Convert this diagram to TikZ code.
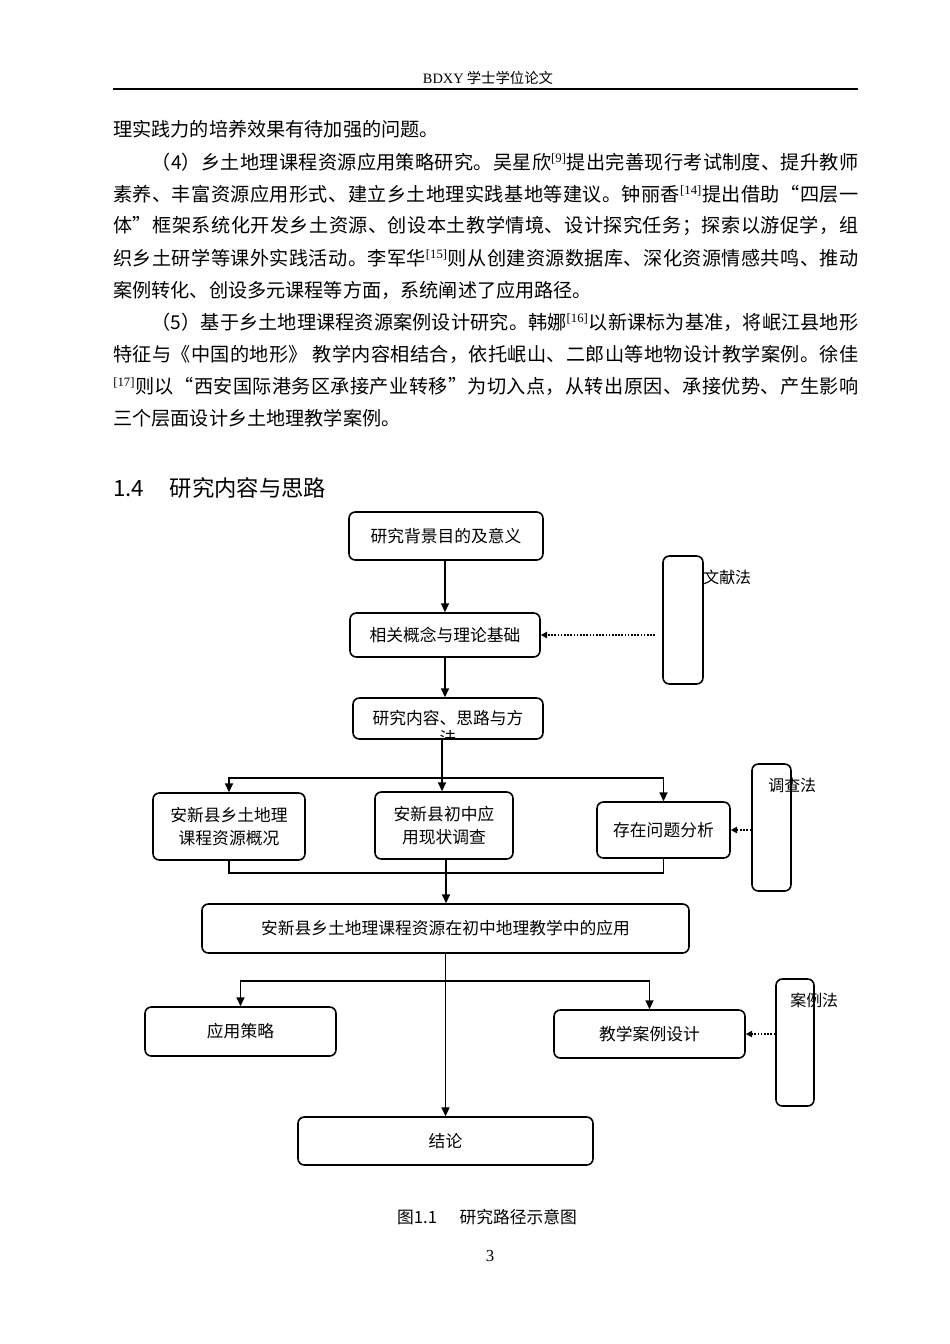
\documentclass[tikz,border=0pt]{standalone}
\usepackage{fontspec}
\setmainfont{Noto Sans CJK SC}
\newfontfamily\latinrm{Liberation Serif}
\usetikzlibrary{arrows.meta, positioning}
% stretchable glue between CJK characters, so that body lines can be justified
\newXeTeXintercharclass\cjkclass
\count255="4E00
\loop
  \XeTeXcharclass\count255=\cjkclass
  \ifnum\count255<"9FFF \advance\count255 by 1
\repeat
\XeTeXcharclass"3001=\cjkclass \XeTeXcharclass"3002=\cjkclass
\XeTeXcharclass"300A=\cjkclass \XeTeXcharclass"300B=\cjkclass
\XeTeXcharclass"FF08=\cjkclass \XeTeXcharclass"FF09=\cjkclass
\XeTeXcharclass"FF0C=\cjkclass \XeTeXcharclass"FF1B=\cjkclass
\XeTeXcharclass"201C=\cjkclass \XeTeXcharclass"201D=\cjkclass
\newcommand\cjkglue{\hskip0pt plus 1pt minus 0.6pt\relax}
\XeTeXinterchartoks\cjkclass\cjkclass={\cjkglue}
\XeTeXinterchartoks 0 \cjkclass={\cjkglue}
\XeTeXinterchartoks\cjkclass 0 ={\cjkglue}
\XeTeXinterchartokenstate=1
\def\px{0.6266pt}
\newcommand\refmark[1]{\textsuperscript{\latinrm[#1]}}
\newcommand\fullline[1]{\hbox to 466.8pt{#1}}

\begin{document}
\begin{tikzpicture}[
    x=0.6266pt, y=-0.6266pt,
    box/.style={draw, line width=1pt, rounded corners=4pt, inner sep=0pt, font=\fontsize{10.5}{14.4}\selectfont, align=center},
    mbox/.style={draw, line width=1pt, rounded corners=4pt, inner sep=0pt},
    mlabel/.style={anchor=west, inner sep=0pt, font=\fontsize{10}{12}\selectfont},
    arrow/.style={-{Triangle[width=5pt,length=5.5pt]}, line width=1pt},
    dotarrow/.style={-{Triangle[width=4pt,length=4pt]}, densely dotted, line width=1pt},
    link/.style={line width=1pt},
    bodyline/.style={anchor=west, inner sep=0pt, font=\fontsize{12}{14}\selectfont}
]
    \useasboundingbox (0,0) rectangle (950,1344);

    % header
    \node (header) at (488,78) {\fontsize{9}{11}\selectfont{\latinrm BDXY} 学士学位论文};
    \draw[line width=1.2pt] (113,89) -- (858,89);

    % body text
    \node[bodyline] (l1) at (113,129) {理实践力的培养效果有待加强的问题。};
    \node[bodyline] (l2) at (113,162) {\fullline{\hspace*{2em}（4）乡土地理课程资源应用策略研究。吴星欣\refmark{9}提出完善现行考试制度、提升教师}};
    \node[bodyline] (l3) at (113,194) {\fullline{素养、丰富资源应用形式、建立乡土地理实践基地等建议。钟丽香\refmark{14}提出借助“四层一}};
    \node[bodyline] (l4) at (113,226) {\fullline{体”框架系统化开发乡土资源、创设本土教学情境、设计探究任务；探索以游促学，组}};
    \node[bodyline] (l5) at (113,258) {\fullline{织乡土研学等课外实践活动。李军华\refmark{15}则从创建资源数据库、深化资源情感共鸣、推动}};
    \node[bodyline] (l6) at (113,290) {案例转化、创设多元课程等方面，系统阐述了应用路径。};
    \node[bodyline] (l7) at (113,322) {\fullline{\hspace*{2em}（5）基于乡土地理课程资源案例设计研究。韩娜\refmark{16}以新课标为基准，将岷江县地形}};
    \node[bodyline] (l8) at (113,354) {\fullline{特征与《中国的地形》 教学内容相结合，依托岷山、二郎山等地物设计教学案例。徐佳}};
    \node[bodyline] (l9) at (113,386) {\fullline{\refmark{17}则以“西安国际港务区承接产业转移”为切入点，从转出原因、承接优势、产生影响}};
    \node[bodyline] (l10) at (113,418) {三个层面设计乡土地理教学案例。};

    \node[anchor=west, inner sep=0pt, font=\fontsize{14}{16}\selectfont] (sec) at (113,488) {1.4\hspace{16pt}研究内容与思路};

    % flow chart
    \node[box, minimum width=194*\px, minimum height=48*\px] (bg) at (446,536) {研究背景目的及意义};
    \node[box, minimum width=190*\px, minimum height=44*\px] (lilun) at (445,635) {相关概念与理论基础};
    \node[box, minimum width=190*\px, minimum height=41*\px] (neirong) at (448,718.5) {研究内容、思路与方};
    \begin{scope}
        \clip (353,699) rectangle (543,738);
        \node[font=\fontsize{10.5}{12}\selectfont] (fa) at (448,738) {法};
    \end{scope}
    \node[box, minimum width=152*\px, minimum height=67*\px] (gaikuang) at (229,826.5) {安新县乡土地理\\课程资源概况};
    \node[box, minimum width=138*\px, minimum height=67*\px] (diaocha) at (444,825.5) {安新县初中应\\用现状调查};
    \node[box, minimum width=133*\px, minimum height=56*\px] (wenti) at (663.5,830) {存在问题分析};
    \node[box, minimum width=487*\px, minimum height=49*\px] (yingyong) at (445.5,928.5) {安新县乡土地理课程资源在初中地理教学中的应用};
    \node[box, minimum width=191*\px, minimum height=49*\px] (celue) at (240.5,1031.5) {应用策略};
    \node[box, minimum width=191*\px, minimum height=48*\px] (anli) at (649.5,1034) {教学案例设计};
    \node[box, minimum width=295*\px, minimum height=48*\px] (jielun) at (445.5,1141) {结论};

    % method boxes
    \node[mbox, minimum width=40*\px, minimum height=128*\px] (wxf) at (683,620) {};
    \node[mbox, minimum width=39*\px, minimum height=127*\px] (dcf) at (771.5,827.5) {};
    \node[mbox, minimum width=38*\px, minimum height=127*\px] (alf) at (795,1042.5) {};
    \node[mlabel] (wxflabel) at (703,577) {文献法};
    \node[mlabel] (dcflabel) at (768,785) {调查法};
    \node[mlabel] (alflabel) at (790,1000) {案例法};

    \coordinate (fork1) at (442,778);
    \coordinate (join1) at (446,873);
    \coordinate (fork2) at (445,981);
    \coordinate (wxfout) at (655,635);

    \draw[arrow] (bg.south -| lilun) -- (lilun.north);
    \draw[arrow] (lilun.south) -- (lilun.south |- neirong.north);
    \draw[arrow] (fork1 |- neirong.south) -- (fork1 |- diaocha.north);
    \draw[arrow] (fork1) -| (gaikuang.north);
    \draw[arrow] (fork1) -| (wenti.north);
    \draw[link] (gaikuang.south) |- (join1) -| (wenti.south);
    \draw[arrow] (join1 |- diaocha.south) -- (join1 |- yingyong.north);
    \draw[arrow] (yingyong.south) -- (yingyong.south |- jielun.north);
    \draw[arrow] (fork2) -| (celue.north);
    \draw[arrow] (fork2) -| (anli.north);

    \draw[dotarrow] (wxfout) -- (lilun.east);
    \draw[dotarrow] (dcf.west |- wenti.east) -- (wenti.east);
    \draw[dotarrow] (alf.west |- anli.east) -- (anli.east);

    % caption and page number
    \node[font=\fontsize{10.5}{12}\selectfont] (caption) at (487,1217) {图1.1\hspace{14pt}研究路径示意图};
    \node[font=\fontsize{10.5}{12}\selectfont\latinrm] (pagenum) at (490,1256) {3};
\end{tikzpicture}
\end{document}
